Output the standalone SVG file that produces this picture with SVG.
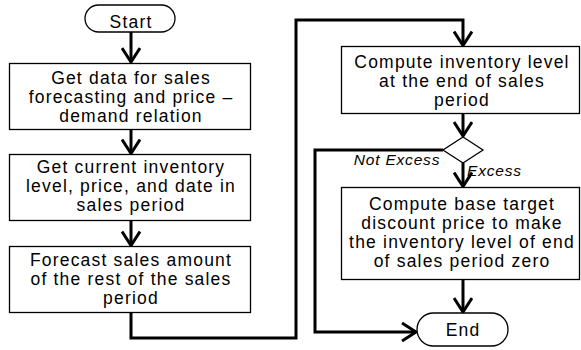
<svg xmlns="http://www.w3.org/2000/svg" width="581" height="350" viewBox="0 0 581 350">
<defs>
<style>
.box{fill:#fff;stroke:#000;stroke-width:1.3}
.t{font-family:"Liberation Sans",Arial,sans-serif;font-size:17.5px;letter-spacing:1.2px;text-anchor:middle;fill:#000}
.lbl{font-family:"Liberation Sans",Arial,sans-serif;font-style:italic;font-size:15.5px;letter-spacing:0.8px;fill:#000}
.c{fill:none;stroke:#000;stroke-width:3}
</style>
<marker id="ah" viewBox="0 0 18 20" refX="15" refY="10" markerWidth="18" markerHeight="20" markerUnits="userSpaceOnUse" orient="auto">
<path d="M1,1 L15,10 L1,19" fill="none" stroke="#000" stroke-width="3"/>
</marker>
</defs>
<rect width="581" height="350" fill="#fff"/>
<g id="connectors">
<path class="c" d="M131,32 V62" marker-end="url(#ah)"/>
<path class="c" d="M131,130 V153.5" marker-end="url(#ah)"/>
<path class="c" d="M131,221 V245.5" marker-end="url(#ah)"/>
<path class="c" d="M131,313 V338 H296 V20 H463 V45.5" marker-end="url(#ah)"/>
<path class="c" d="M463,114 V136" marker-end="url(#ah)"/>
<path class="c" d="M463,163 V186.5" marker-end="url(#ah)"/>
<path class="c" d="M463,280 V312" marker-end="url(#ah)"/>
<path class="c" d="M443,150 H315 V332 H416" marker-end="url(#ah)"/>
<text class="lbl" x="397" y="165" text-anchor="middle">Not Excess</text>
<text class="lbl" x="467" y="176">Excess</text>
</g>
<g id="start">
<rect class="box" x="85" y="5" width="90" height="27" rx="13.5"/>
<text class="t" x="131" y="28">Start</text>
</g>
<g id="get-data">
<rect class="box" x="9.5" y="63.5" width="241" height="66"/>
<text class="t" x="131" y="84">Get data for sales</text>
<text class="t" x="131" y="103">forecasting and price –</text>
<text class="t" x="131" y="122">demand relation</text>
</g>
<g id="get-current">
<rect class="box" x="9.5" y="154.5" width="241" height="66"/>
<text class="t" x="131" y="173">Get current inventory</text>
<text class="t" x="131" y="192">level, price, and date in</text>
<text class="t" x="131" y="211">sales period</text>
</g>
<g id="forecast">
<rect class="box" x="9.5" y="246.5" width="241" height="66"/>
<text class="t" x="131" y="266">Forecast sales amount</text>
<text class="t" x="131" y="285">of the rest of the sales</text>
<text class="t" x="131" y="304">period</text>
</g>
<g id="compute-inventory">
<rect class="box" x="341.5" y="46.5" width="238" height="67"/>
<text class="t" x="462" y="68">Compute inventory level</text>
<text class="t" x="462" y="87">at the end of sales</text>
<text class="t" x="462" y="106">period</text>
</g>
<g id="decision">
<polygon class="box" points="463,137 483,150 463,163 443,150"/>
</g>
<g id="compute-price">
<rect class="box" x="341.5" y="187.5" width="238" height="92"/>
<text class="t" x="462" y="210">Compute base target</text>
<text class="t" x="462" y="229">discount price to make</text>
<text class="t" x="462" y="248">the inventory level of end</text>
<text class="t" x="462" y="267">of sales period zero</text>
</g>
<g id="end">
<rect class="box" x="417" y="313" width="91" height="33" rx="16.5"/>
<text class="t" x="463" y="336">End</text>
</g>
</svg>
